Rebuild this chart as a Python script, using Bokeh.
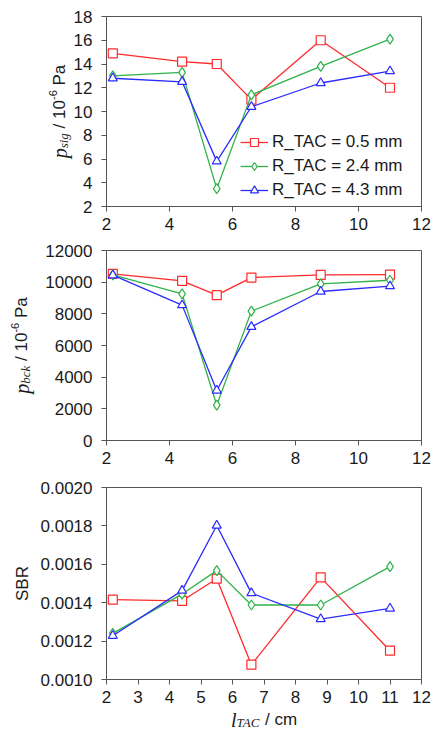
from math import pi
from bokeh.plotting import figure
from bokeh.layouts import column
from bokeh.models import Range1d, FixedTicker, NumeralTickFormatter
from bokeh.core.properties import value
from bokeh.embed import file_html
from bokeh.resources import INLINE

# ---------------- data ----------------
l_tac = [2.2, 4.4, 5.5, 6.6, 8.8, 11.0]
series_labels = ["R_TAC = 0.5 mm", "R_TAC = 2.4 mm", "R_TAC = 4.3 mm"]

p_sig_05 = [14.9, 14.2, 14.0, 11.0, 16.0, 12.0]
p_sig_24 = [13.0, 13.3, 3.5, 11.4, 13.8, 16.1]
p_sig_43 = [12.8, 12.5, 5.8, 10.4, 12.4, 13.4]

p_bck_05 = [10520, 10080, 9180, 10290, 10460, 10480]
p_bck_24 = [10460, 9260, 2230, 8170, 9890, 10120]
p_bck_43 = [10440, 8550, 3160, 7180, 9410, 9750]

sbr_05 = [0.001416, 0.001410, 0.001525, 0.001077, 0.001532, 0.001150]
sbr_24 = [0.001240, 0.001445, 0.001567, 0.001388, 0.001388, 0.001588]
sbr_43 = [0.001228, 0.001463, 0.001802, 0.001450, 0.001315, 0.001370]

x_ticks_top = [2, 4, 6, 8, 10, 12]
x_ticks_bottom = [2, 3, 4, 5, 6, 7, 8, 9, 10, 11, 12]
y_ticks_sig = [2, 4, 6, 8, 10, 12, 14, 16, 18]
y_ticks_bck = [0, 2000, 4000, 6000, 8000, 10000, 12000]
y_ticks_sbr = [0.0010, 0.0012, 0.0014, 0.0016, 0.0018, 0.0020]

# ---------------- style ----------------
COLORS = ["#ff2a2a", "#2fb24a", "#2b2bff"]
MARKERS = ["square", "diamond", "triangle"]
SIZES = [9, 10, 9]
AXIS_COL = "#555555"
TXT_COL = "#1a1a1a"
SANS = "Liberation Sans"
SERIF = "Liberation Serif"
W = 434
LEFT, RIGHT = 106, 13
X_LO, X_HI = 2, 12
SP = 4.7  # width of a 17px space


def make_fig(height, top, bottom, y_range, x_ticks, y_ticks, y_fmt):
    p = figure(width=W, height=height, output_backend="svg", toolbar_location=None,
               x_range=Range1d(X_LO, X_HI), y_range=Range1d(*y_range),
               min_border_left=LEFT, min_border_right=RIGHT,
               min_border_top=top, min_border_bottom=bottom,
               background_fill_color="white", border_fill_color="white")
    p.xgrid.grid_line_color = None
    p.ygrid.grid_line_color = None
    p.outline_line_color = AXIS_COL
    p.outline_line_width = 1
    for ax in (p.xaxis[0], p.yaxis[0]):
        ax.axis_line_color = AXIS_COL
        ax.major_tick_line_color = AXIS_COL
        ax.minor_tick_line_color = None
        ax.major_tick_in = 0
        ax.major_tick_out = 5
        ax.major_label_text_font = SANS
        ax.major_label_text_font_size = "17px"
        ax.major_label_text_color = TXT_COL
    p.xaxis[0].ticker = FixedTicker(ticks=x_ticks)
    p.yaxis[0].ticker = FixedTicker(ticks=y_ticks)
    p.xaxis[0].major_label_standoff = 6
    p.yaxis[0].major_label_standoff = 9
    p.yaxis[0].formatter = NumeralTickFormatter(format=y_fmt)
    return p


def add_series(p, ys_list, legend=False):
    for i, ys in enumerate(ys_list):
        kw = dict(legend_label=series_labels[i]) if legend else {}
        p.line(l_tac, ys, line_color=COLORS[i], line_width=1.3, **kw)
        p.scatter(l_tac, ys, marker=MARKERS[i], size=SIZES[i], line_color=COLORS[i],
                  fill_color="white", line_width=1.2, **kw)


def put_text(p, x, y, text, font, style, size, dx, dy, angle=0.0, align="left"):
    p.text(x=[x], y=[y], text=[text], angle=angle, x_offset=dx, y_offset=dy,
           text_font=value(font), text_font_style=style, text_font_size=f"{size}px",
           text_color=TXT_COL, text_align=align, text_baseline="alphabetic",
           level="overlay")


def rot_label(p, parts, base_x, y_mid):
    """Rotated (bottom-to-top) label built from pieces; base_x px from frame left.
    parts: (text, font, style, size, lead_gap, width, dx)"""
    pos = -sum(pp[4] + pp[5] for pp in parts) / 2
    for text, font, style, size, gap, w, dx in parts:
        pos += gap
        put_text(p, X_LO, y_mid, text, font, style, size, base_x + dx, -pos, angle=pi / 2)
        pos += w


def ylabel_parts(sub, sub_w):
    return [("p", SERIF, "italic", 20, 0, 10.0, 0),
            (sub, SERIF, "italic", 13, 0, sub_w, 4),
            ("/ 10", SANS, "normal", 17, SP, 28.4, 0),
            ("-6", SANS, "normal", 11, 0, 9.8, -7),
            ("Pa", SANS, "normal", 17, SP, 20.8, 0)]


# ---------------- panel 1 ----------------
p1 = make_fig(240, 16, 34, (2, 18), x_ticks_top, y_ticks_sig, "0")
add_series(p1, [p_sig_05, p_sig_24, p_sig_43], legend=True)
lg = p1.legend[0]
lg.location = (134, 6)
lg.border_line_color = None
lg.background_fill_alpha = 0
lg.padding = 0
lg.margin = 0
lg.spacing = 4
lg.glyph_width = 28
lg.glyph_height = 20
lg.label_height = 20
lg.label_standoff = 4
lg.label_text_font = SANS
lg.label_text_font_size = "17px"
lg.label_text_color = TXT_COL

rot_label(p1, ylabel_parts("sig", 15.2), -47, 10)

# ---------------- panel 2 ----------------
p2 = make_fig(234, 10, 34, (0, 12000), x_ticks_top, y_ticks_bck, "0")
add_series(p2, [p_bck_05, p_bck_24, p_bck_43])
rot_label(p2, ylabel_parts("bck", 18.0), -85, 6000)

# ---------------- panel 3 ----------------
p3 = make_fig(258, 13, 53, (0.0010, 0.0020), x_ticks_bottom, y_ticks_sbr, "0.0000")
add_series(p3, [sbr_05, sbr_24, sbr_43])
put_text(p3, X_LO, 0.0015, "SBR", SANS, "normal", 17, -84, 0, angle=pi / 2, align="center")

# x label: l_TAC / cm
xl_parts = [("l", SERIF, "italic", 20, 0, 5.6, 0),
            ("TAC", SERIF, "italic", 13, 0, 23.8, 3),
            ("/ cm", SANS, "normal", 17, SP, 32.1, 0)]
xpos = -sum(pp[4] + pp[5] for pp in xl_parts) / 2
for text, font, style, size, gap, w, dy in xl_parts:
    xpos += gap
    put_text(p3, (X_LO + X_HI) / 2, 0.0010, text, font, style, size, xpos, 40 + dy)
    xpos += w

layout = column(p1, p2, p3, spacing=0)
open("out.html", "w").write(file_html(layout, INLINE))
